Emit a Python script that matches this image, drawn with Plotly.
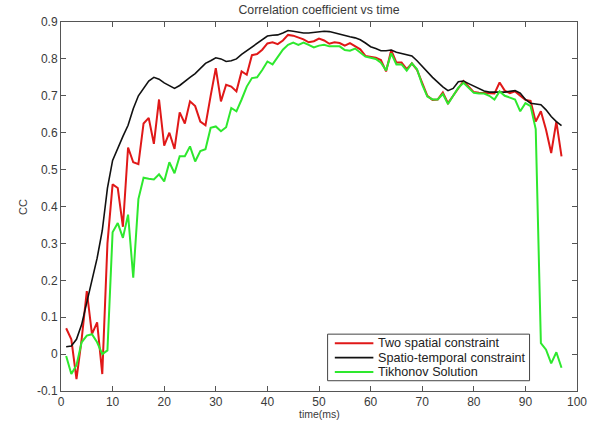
import plotly.graph_objects as go

t = list(range(1, 98))

two_spatial = [
    0.070, 0.040, -0.068, 0.040, 0.171, 0.054, 0.086, -0.054, 0.300, 0.460,
    0.450, 0.345, 0.560, 0.520, 0.515, 0.625, 0.640, 0.570, 0.690, 0.565,
    0.600, 0.556, 0.655, 0.625, 0.685, 0.672, 0.630, 0.620, 0.700, 0.775,
    0.685, 0.730, 0.725, 0.712, 0.766, 0.757, 0.810, 0.813, 0.825, 0.842,
    0.845, 0.840, 0.850, 0.865, 0.863, 0.858, 0.853, 0.845, 0.848, 0.855,
    0.850, 0.841, 0.845, 0.843, 0.836, 0.843, 0.835, 0.826, 0.808, 0.805,
    0.803, 0.797, 0.766, 0.824, 0.790, 0.790, 0.772, 0.788, 0.770, 0.735,
    0.700, 0.689, 0.690, 0.709, 0.680, 0.700, 0.720, 0.740, 0.725, 0.710,
    0.708, 0.707, 0.706, 0.706, 0.736, 0.714, 0.707, 0.712, 0.700, 0.689,
    0.686, 0.630, 0.658, 0.608, 0.545, 0.630, 0.536,
]

spatio_temporal = [
    0.020, 0.022, 0.040, 0.080, 0.140, 0.200, 0.260, 0.335, 0.450, 0.525,
    0.560, 0.590, 0.620, 0.665, 0.700, 0.720, 0.740, 0.750, 0.745, 0.735,
    0.728, 0.720, 0.728, 0.740, 0.750, 0.760, 0.775, 0.788, 0.795, 0.803,
    0.800, 0.793, 0.795, 0.800, 0.812, 0.822, 0.833, 0.842, 0.852, 0.862,
    0.864, 0.865, 0.870, 0.877, 0.875, 0.872, 0.870, 0.870, 0.872, 0.874,
    0.875, 0.874, 0.870, 0.867, 0.864, 0.860, 0.857, 0.852, 0.843, 0.833,
    0.828, 0.822, 0.822, 0.824, 0.818, 0.815, 0.812, 0.808, 0.795, 0.779,
    0.765, 0.750, 0.737, 0.724, 0.714, 0.720, 0.738, 0.740, 0.733, 0.727,
    0.720, 0.713, 0.710, 0.710, 0.708, 0.710, 0.712, 0.714, 0.707, 0.690,
    0.680, 0.678, 0.676, 0.662, 0.644, 0.630, 0.619,
]

tikhonov = [
    -0.005, -0.054, -0.030, 0.032, 0.050, 0.054, 0.032, 0.000, 0.010, 0.330,
    0.355, 0.315, 0.378, 0.207, 0.420, 0.478, 0.475, 0.473, 0.487, 0.468,
    0.520, 0.490, 0.536, 0.536, 0.563, 0.522, 0.550, 0.555, 0.613, 0.617,
    0.604, 0.615, 0.667, 0.658, 0.690, 0.725, 0.748, 0.750, 0.770, 0.793,
    0.785, 0.805, 0.825, 0.838, 0.844, 0.838, 0.844, 0.838, 0.831, 0.836,
    0.838, 0.834, 0.834, 0.834, 0.824, 0.822, 0.828, 0.818, 0.806, 0.803,
    0.800, 0.790, 0.769, 0.815, 0.785, 0.785, 0.768, 0.788, 0.772, 0.730,
    0.698, 0.690, 0.690, 0.705, 0.678, 0.700, 0.722, 0.735, 0.722, 0.708,
    0.706, 0.706, 0.700, 0.690, 0.712, 0.700, 0.695, 0.690, 0.658, 0.680,
    0.672, 0.610, 0.030, 0.012, -0.025, 0.005, -0.037,
]

series_names = ["Two spatial constraint", "Spatio-temporal constraint", "Tikhonov Solution"]
series_colors = ["#e01818", "#111111", "#2ee82e"]
series_widths = [2, 1.6, 2]

x_ticks = [0, 10, 20, 30, 40, 50, 60, 70, 80, 90, 100]
y_ticks = [-0.1, 0, 0.1, 0.2, 0.3, 0.4, 0.5, 0.6, 0.7, 0.8, 0.9]
y_ticktext = ["-0.1", "0", "0.1", "0.2", "0.3", "0.4", "0.5", "0.6", "0.7", "0.8", "0.9"]

FONT = "Liberation Sans, Arial, sans-serif"
TXT = "#3a3a3a"
AX = "#555555"

# plot-area geometry in pixels (used only to place legend / labels)
W, H = 599, 421
L, R, T, B = 61, 16, 22, 29
PW, PH = W - L - R, H - T - B


def px_x(px):
    return (px - L) / PW


def px_y(py):
    return (H - B - py) / PH


fig = go.Figure()
for name, ys, col, w in zip(series_names, [two_spatial, spatio_temporal, tikhonov],
                            series_colors, series_widths):
    fig.add_trace(go.Scatter(x=t, y=ys, mode="lines", name=name,
                             line=dict(color=col, width=w), showlegend=False))

axis_common = dict(showgrid=False, zeroline=False, showline=True, linecolor=AX, linewidth=1,
                   mirror="ticks", ticks="inside", ticklen=5, tickcolor=AX,
                   tickfont=dict(family=FONT, size=12, color=TXT))

# custom legend box (matches compact MATLAB-style legend)
shapes = [dict(type="rect", xref="paper", yref="paper",
               x0=px_x(330.7), x1=px_x(535), y0=px_y(381.7), y1=px_y(335),
               fillcolor="white", line=dict(color="#444444", width=1), layer="above")]
annotations = []
row_py = [344, 358.5, 373]
for name, col, w, py in zip(series_names, series_colors, series_widths, row_py):
    shapes.append(dict(type="line", xref="paper", yref="paper",
                       x0=px_x(338), x1=px_x(377), y0=px_y(py), y1=px_y(py),
                       line=dict(color=col, width=w), layer="above"))
    annotations.append(dict(text=name, x=px_x(380), y=px_y(py), xref="paper", yref="paper",
                            showarrow=False, xanchor="left", yanchor="middle",
                            font=dict(family=FONT, size=12.6, color="#222222")))

annotations += [
    dict(text="time(ms)", x=0.5, y=px_y(415), xref="paper", yref="paper",
         showarrow=False, xanchor="center", yanchor="middle",
         font=dict(family=FONT, size=10.5, color=TXT)),
    dict(text="CC", x=px_x(22), y=0.5, xref="paper", yref="paper", textangle=-90,
         showarrow=False, xanchor="center", yanchor="middle",
         font=dict(family=FONT, size=11, color=TXT)),
]

fig.update_layout(
    width=W, height=H,
    margin=dict(l=L, r=R, t=T, b=B),
    paper_bgcolor="white", plot_bgcolor="white",
    font=dict(family=FONT, color=TXT),
    title=dict(text="Correlation coefficient vs time", x=0.5, xref="paper",
               y=1 - 10 / H, yref="container", yanchor="middle", xanchor="center",
               font=dict(family=FONT, size=12.3, color=TXT)),
    xaxis=dict(range=[0, 100], tickvals=x_ticks, ticklabelstandoff=0, **axis_common),
    yaxis=dict(range=[-0.1, 0.9], tickvals=y_ticks, ticktext=y_ticktext, **axis_common),
    showlegend=False,
    shapes=shapes,
    annotations=annotations,
)

fig.write_html("out.html")
